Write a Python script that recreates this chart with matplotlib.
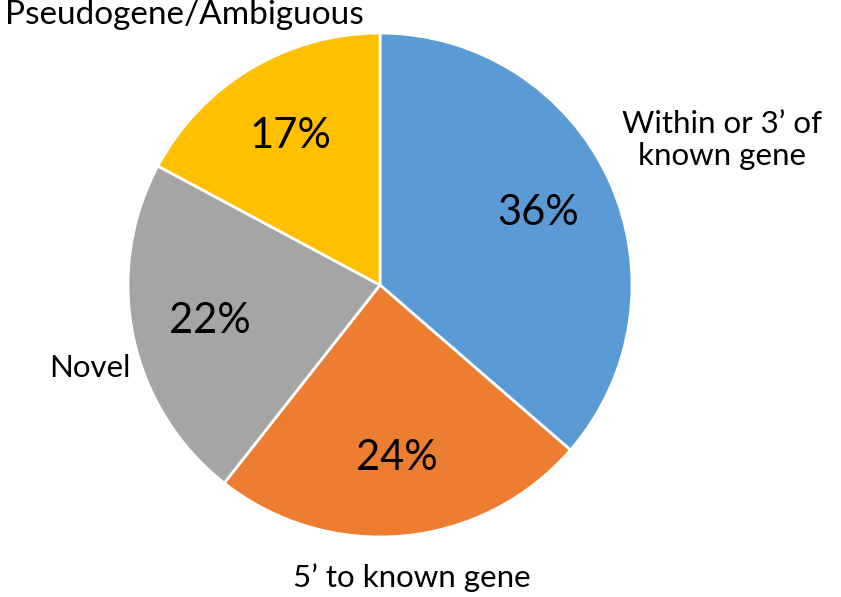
import matplotlib.pyplot as plt

# data
categories = ["Within or 3\u2019 of\nknown gene", "5\u2019 to known gene", "Novel", "Pseudogene/Ambiguous"]
values = [36, 24, 22, 17]
pct_labels = ["36%", "24%", "22%", "17%"]
colors = ["#5B9BD5", "#ED7D31", "#A5A5A5", "#FFC000"]

# where the category labels sit (figure pixels, from top-left)
label_pos = [(722, 140), (412, 578), (90, 368), (184, 15)]

W, H = 841, 597
fig = plt.figure(figsize=(W / 100, H / 100), dpi=100)
plt.rcParams['font.family'] = ['Lato', 'DejaVu Sans']

cx, cy, r = 380, 285, 252
ax = fig.add_axes([(cx - r) / W, (H - cy - r) / H, 2 * r / W, 2 * r / H])

wedges, texts = ax.pie(values, labels=pct_labels, colors=colors, startangle=90,
                       counterclock=False, labeldistance=0.69,
                       wedgeprops=dict(edgecolor="white", linewidth=2),
                       textprops=dict(fontsize=30, color="black"))
for t in texts:
    t.set_horizontalalignment("center")
    t.set_verticalalignment("center")
ax.set_xlim(-1, 1)
ax.set_ylim(-1, 1)
ax.set_aspect("equal")

sizes = [22.5, 22.5, 22.5, 24]
for name, (px, py), fs in zip(categories, label_pos, sizes):
    fig.text(px / W, 1 - py / H, name, ha="center", va="center", fontsize=fs,
             linespacing=1.2)

fig.savefig("out.png", dpi=100)
